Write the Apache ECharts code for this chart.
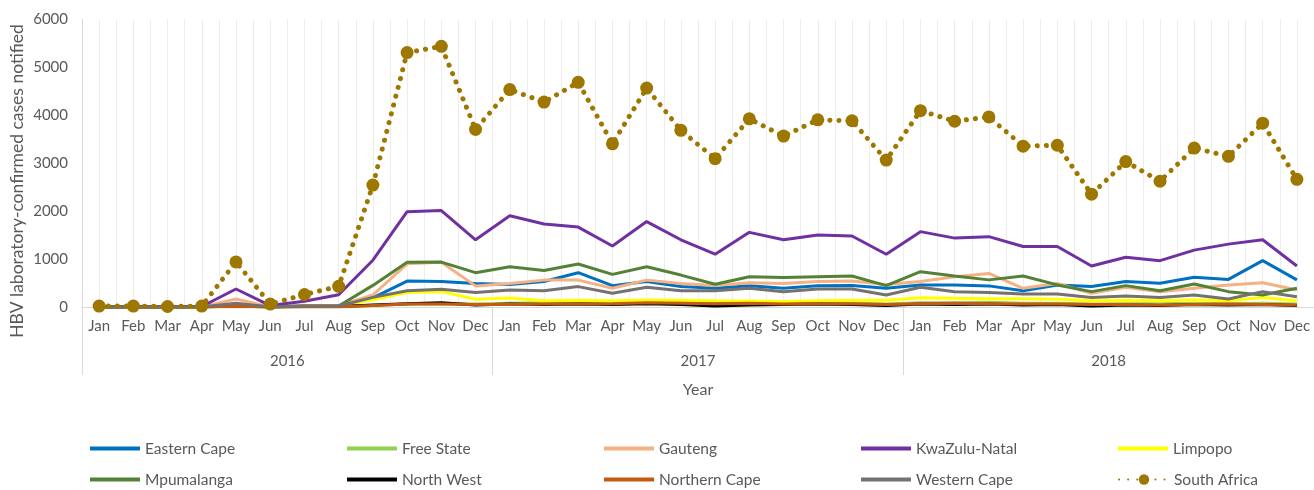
<!DOCTYPE html>
<html><head><meta charset="utf-8">
<script src="https://cdn.jsdelivr.net/npm/echarts@6/dist/echarts.min.js"></script>
<style>html,body{margin:0;padding:0;background:#fff}#c{width:1314px;height:490px}</style>
</head><body><div id="c"></div>
<script>
const months = ['Jan','Feb','Mar','Apr','May','Jun','Jul','Aug','Sep','Oct','Nov','Dec',
                'Jan','Feb','Mar','Apr','May','Jun','Jul','Aug','Sep','Oct','Nov','Dec',
                'Jan','Feb','Mar','Apr','May','Jun','Jul','Aug','Sep','Oct','Nov','Dec'];
const years = ['2016','2017','2018'];
const yTicks = [0, 1000, 2000, 3000, 4000, 5000, 6000];

const easternCape   = [0,0,0,0,30,0,20,20,190,540,530,490, 470,530,715,445,530,425,390,445,390,445,450,390, 460,460,440,340,460,425,530,495,620,575,965,565];
const freeState     = [0,0,0,0,20,0,10,10,30,60,70,60, 80,90,80,70,80,90,80,70,80,90,80,60, 90,90,100,80,80,60,70,70,80,70,80,60];
const gauteng       = [0,0,0,0,165,0,30,30,250,900,930,440, 490,560,560,390,560,490,450,505,490,530,540,470, 530,630,700,390,490,285,410,320,390,460,505,355];
const kwaZuluNatal  = [0,0,0,10,375,30,120,255,975,1985,2010,1400, 1900,1730,1665,1270,1780,1400,1100,1555,1400,1500,1480,1100, 1570,1435,1465,1260,1260,855,1035,965,1185,1310,1400,855];
const limpopo       = [0,0,0,0,20,0,10,20,150,300,320,160, 185,130,140,130,145,140,130,125,115,130,140,140, 195,180,170,170,160,130,140,130,150,130,200,130];
const mpumalanga    = [0,0,0,0,60,0,20,20,450,930,935,715, 840,760,895,680,840,665,475,630,615,630,645,445, 735,645,565,645,460,320,445,340,480,320,250,390];
const northWest     = [0,0,0,0,20,0,10,10,40,70,90,40, 60,50,60,50,70,50,20,40,50,60,50,30, 60,50,60,40,50,20,40,30,50,40,50,30];
const northernCape  = [0,0,0,0,10,0,0,0,30,60,60,50, 50,60,60,70,90,80,70,80,60,70,70,50, 70,80,70,60,60,50,50,40,50,60,50,40];
const westernCape   = [0,0,0,0,80,0,20,20,200,340,370,300, 355,340,425,285,410,340,340,390,320,375,375,250, 410,320,300,270,270,200,230,200,250,165,320,215];
const southAfrica   = [20,20,10,20,940,60,260,430,2540,5300,5430,3700, 4530,4270,4680,3400,4560,3680,3090,3920,3560,3900,3880,3060, 4090,3870,3960,3350,3370,2350,3030,2620,3310,3140,3830,2660];

const seriesNames = ['Eastern Cape','Free State','Gauteng','KwaZulu-Natal','Limpopo',
                     'Mpumalanga','North West','Northern Cape','Western Cape','South Africa'];
const seriesData = [easternCape, freeState, gauteng, kwaZuluNatal, limpopo,
                    mpumalanga, northWest, northernCape, westernCape, southAfrica];
const colors = ['#0070C0','#92D050','#F4B183','#7030A0','#FFFF00',
                '#538135','#000000','#C55A11','#767171','#9E7700'];

const FONT = 'Lato';
const TXT = '#595959';

const series = seriesNames.map((n, i) => {
  if (n === 'South Africa') {
    return {
      name: n, type: 'line', data: seriesData[i], z: 10,
      symbol: 'circle', symbolSize: 13, showSymbol: true,
      itemStyle: { color: colors[i] },
      lineStyle: { color: colors[i], width: 5, type: [0.1, 9], cap: 'round' }
    };
  }
  return {
    name: n, type: 'line', data: seriesData[i], symbol: 'none',
    itemStyle: { color: colors[i] },
    lineStyle: { color: colors[i], width: 3 }
  };
});

const colX = [90, 347, 604, 861, 1118];
const rowC = [450, 481];
const legends = seriesNames.map((n, i) => ({
  data: [n], left: colX[i % 5], top: rowC[Math.floor(i / 5)] - 9.5, padding: 0,
  itemWidth: 50, itemHeight: 13, itemGap: 8,
  icon: n === 'South Africa' ? undefined : 'path://M0,0L50,0L50,4L0,4Z',
  textStyle: { color: TXT, fontFamily: FONT, fontSize: 15.5 }
}));

const chart = echarts.init(document.getElementById('c'), null, { renderer: 'canvas' });
chart.setOption({
  animation: false,
  color: colors,
  grid: { left: 82, right: -1, top: 19, bottom: 183, containLabel: false },
  legend: legends,
  graphic: [{
    type: 'text', x: 17, y: 181, rotation: Math.PI / 2,
    style: { text: 'HBV laboratory-confirmed cases notified', textAlign: 'center', textVerticalAlign: 'middle',
             fill: TXT, font: '17.5px ' + FONT }
  }],
  xAxis: [
    {
      type: 'category', data: months, boundaryGap: true, position: 'bottom',
      axisLine: { show: true, lineStyle: { color: '#D9D9D9', width: 1 } },
      axisTick: { show: false },
      axisLabel: { interval: 0, margin: 12, color: TXT, fontFamily: FONT, fontSize: 15 },
      splitLine: { show: false }
    },
    {
      type: 'category', data: years, boundaryGap: true, position: 'bottom',
      axisLine: { show: false },
      axisTick: { show: true, interval: 0, length: 68, lineStyle: { color: '#D9D9D9' } },
      axisLabel: { interval: 0, margin: 47, color: TXT, fontFamily: FONT, fontSize: 15 },
      name: 'Year', nameLocation: 'middle', nameGap: 75,
      nameTextStyle: { color: TXT, fontFamily: FONT, fontSize: 16 },
      splitLine: { show: false }
    },
    {
      type: 'category', data: new Array(72).fill(''), boundaryGap: true, show: true,
      axisLine: { show: false }, axisTick: { show: false }, axisLabel: { show: false },
      splitLine: { show: true, interval: 0, lineStyle: { color: '#EDEDED', width: 1 } }
    }
  ],
  yAxis: {
    type: 'value', min: yTicks[0], max: yTicks[yTicks.length - 1], interval: 1000,
    axisLine: { show: true, lineStyle: { color: '#D9D9D9' } },
    axisTick: { show: false },
    axisLabel: { margin: 14, color: TXT, fontFamily: FONT, fontSize: 15, formatter: v => String(v) },
    splitLine: { show: false }
  },
  series: series
});
</script>
</body></html>
